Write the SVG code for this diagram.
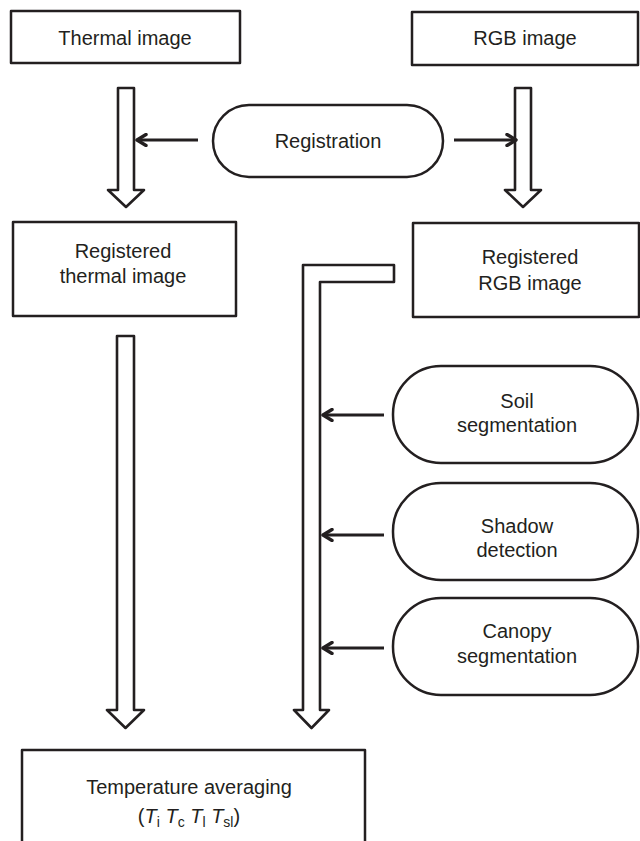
<svg xmlns="http://www.w3.org/2000/svg" width="640" height="841" viewBox="0 0 640 841">
<defs>
<style>
.box{fill:#fff;stroke:#231f20;stroke-width:2.5;stroke-linejoin:round}
.hollow{fill:#fff;stroke:#231f20;stroke-width:2.6;stroke-linejoin:round}
.line{fill:none;stroke:#231f20;stroke-width:3}
text{font-family:"Liberation Sans",Arial,sans-serif;font-size:20px;fill:#231f20;text-anchor:middle}
</style>
<marker id="ah" viewBox="0 0 14 14" refX="12" refY="7" markerWidth="14" markerHeight="14" markerUnits="userSpaceOnUse" orient="auto">
<polyline points="3,1.5 12,7 3,12.5" fill="none" stroke="#231f20" stroke-width="3.4" stroke-linecap="round" stroke-linejoin="round"/>
</marker>
</defs>
<rect width="640" height="841" fill="#fff"/>
<g id="connectors">
<path class="hollow" d="M118,88 L134,88 L134,190 L144,190 L126,207 L108,190 L118,190 Z"/>
<path class="hollow" d="M515,88 L531,88 L531,190 L541,190 L523,207 L505,190 L515,190 Z"/>
<path class="hollow" d="M117,336 L134,336 L134,710 L144,710 L125.5,728 L107,710 L117,710 Z"/>
<path class="hollow" d="M303,265 L394,265 L394,282 L320,282 L320,710 L329,710 L311.5,728 L294,710 L303,710 Z"/>
<line class="line" x1="198" y1="140" x2="137" y2="140" marker-end="url(#ah)"/>
<line class="line" x1="454" y1="140" x2="516" y2="140" marker-end="url(#ah)"/>
<line class="line" x1="384" y1="415" x2="323" y2="415" marker-end="url(#ah)"/>
<line class="line" x1="384" y1="535" x2="323" y2="535" marker-end="url(#ah)"/>
<line class="line" x1="384" y1="648" x2="323" y2="648" marker-end="url(#ah)"/>
</g>
<g id="thermal">
<rect class="box" x="11" y="11" width="229" height="52"/>
<text x="125" y="45">Thermal image</text>
</g>
<g id="rgb">
<rect class="box" x="412" y="12" width="226" height="53"/>
<text x="525" y="45">RGB image</text>
</g>
<g id="registration">
<rect class="box" x="213" y="105" width="230" height="72" rx="36" ry="36"/>
<text x="328" y="148">Registration</text>
</g>
<g id="reg-thermal">
<rect class="box" x="13" y="222" width="223" height="94"/>
<text x="123" y="258">Registered</text>
<text x="123" y="283">thermal image</text>
</g>
<g id="reg-rgb">
<rect class="box" x="413" y="223" width="226" height="94"/>
<text x="530" y="264">Registered</text>
<text x="530" y="290">RGB image</text>
</g>
<g id="soil">
<rect class="box" x="393" y="366" width="245" height="97" rx="48" ry="48"/>
<text x="517" y="408">Soil</text>
<text x="517" y="432">segmentation</text>
</g>
<g id="shadow">
<rect class="box" x="393" y="483" width="245" height="97" rx="48" ry="48"/>
<text x="517" y="533">Shadow</text>
<text x="517" y="557">detection</text>
</g>
<g id="canopy">
<rect class="box" x="393" y="598" width="245" height="97" rx="48" ry="48"/>
<text x="517" y="638">Canopy</text>
<text x="517" y="663">segmentation</text>
</g>
<g id="averaging">
<rect class="box" x="22" y="750" width="343" height="110"/>
<text x="189" y="794">Temperature averaging</text>
<text x="189" y="823">(<tspan font-style="italic">T</tspan><tspan font-size="14" dy="4">i</tspan><tspan dy="-4"> </tspan><tspan font-style="italic">T</tspan><tspan font-size="14" dy="4">c</tspan><tspan dy="-4"> </tspan><tspan font-style="italic">T</tspan><tspan font-size="14" dy="4">l</tspan><tspan dy="-4"> </tspan><tspan font-style="italic">T</tspan><tspan font-size="14" dy="4">sl</tspan><tspan dy="-4">)</tspan></text>
</g>
</svg>
